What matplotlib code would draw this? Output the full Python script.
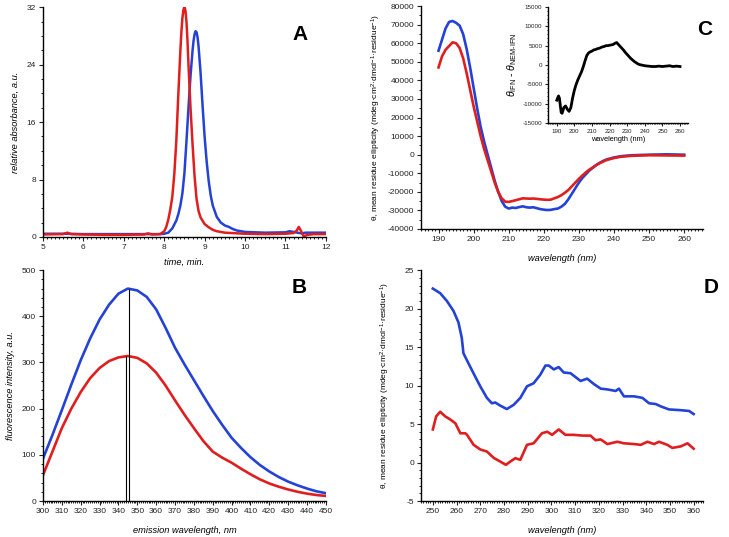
import matplotlib
matplotlib.use("Agg")
import matplotlib.pyplot as plt
from matplotlib.ticker import MultipleLocator

plt.rcParams['font.family'] = ['Liberation Sans', 'DejaVu Sans']
plt.rcParams['mathtext.fontset'] = 'custom'
plt.rcParams['mathtext.rm'] = 'Liberation Sans'
plt.rcParams['mathtext.it'] = 'Liberation Sans:italic'
plt.rcParams['mathtext.bf'] = 'Liberation Sans:bold'
plt.rcParams['axes.unicode_minus'] = False

BLUE = '#2442d6'
RED = '#e01e1e'

# ---------------- Panel A data (SEC chromatogram) ----------------
a_time_blue = [5.0, 5.5, 6.0, 6.5, 7.0, 7.5, 7.9, 8.0, 8.1, 8.2, 8.3, 8.35, 8.4, 8.45, 8.5, 8.55,
               8.6, 8.65, 8.7, 8.725, 8.75, 8.775, 8.8, 8.825, 8.85, 8.9, 8.95, 9.0, 9.05, 9.1, 9.15,
               9.2, 9.3, 9.4, 9.5, 9.6, 9.7, 9.8, 10.0, 10.5, 11.0, 11.1, 11.2, 11.3, 11.4, 11.5, 12.0]
a_abs_blue = [0.45, 0.45, 0.4, 0.4, 0.4, 0.4, 0.4, 0.45, 0.6, 1.2, 2.3, 3.2, 4.4, 6.1, 8.9, 13.3,
              18.0, 22.4, 25.9, 27.3, 28.2, 28.65, 28.5, 27.8, 26.5, 22.8, 18.2, 13.9, 10.5, 7.8, 5.8,
              4.4, 2.8, 2.0, 1.6, 1.4, 1.1, 0.9, 0.7, 0.6, 0.65, 0.8, 0.7, 0.6, 0.5, 0.6, 0.6]
a_time_red = [5.0, 5.5, 5.6, 5.7, 6.0, 6.5, 7.0, 7.5, 7.6, 7.7, 7.9, 8.0, 8.05, 8.1, 8.15, 8.2,
              8.25, 8.3, 8.35, 8.4, 8.425, 8.45, 8.475, 8.5, 8.525, 8.55, 8.575, 8.6, 8.65, 8.7,
              8.75, 8.8, 8.85, 8.9, 9.0, 9.1, 9.2, 9.3, 9.5, 10.0, 10.5, 11.0, 11.2, 11.28, 11.33,
              11.38, 11.45, 11.55, 11.7, 12.0]
a_abs_red = [0.35, 0.4, 0.6, 0.4, 0.35, 0.3, 0.3, 0.35, 0.5, 0.35, 0.4, 0.8, 1.4, 2.4, 3.8, 5.6,
             8.8, 13.5, 20.0, 26.0, 28.6, 30.5, 31.6, 32.1, 31.5, 30.0, 27.4, 24.0, 18.0, 13.0,
             8.5, 5.3, 3.6, 2.7, 1.8, 1.35, 1.0, 0.8, 0.6, 0.45, 0.4, 0.45, 0.55, 0.9, 1.4,
             0.9, 0.1, 0.3, 0.4, 0.4]

# ---------------- Panel B data (fluorescence) ----------------
b_wl = [300, 305, 310, 315, 320, 325, 330, 335, 340, 345, 350, 355, 360, 365, 370, 375,
        380, 385, 390, 395, 400, 405, 410, 415, 420, 425, 430, 435, 440, 445, 450]
b_blue = [92, 143, 197, 252, 305, 352, 393, 425, 449, 460, 456, 442, 415, 375, 332, 296,
          262, 228, 195, 165, 137, 115, 95, 78, 64, 52, 42, 34, 27, 21, 17]
b_red = [56, 107, 158, 200, 236, 266, 288, 303, 311, 314, 310, 298, 278, 250, 218, 187,
         158, 130, 107, 94, 83, 70, 58, 47, 38, 31, 25, 20, 16, 13, 11]
b_max_red = [344.0, 314]
b_max_blue = [345.6, 460]

# ---------------- Panel C data (far-UV CD) ----------------
c_wl = [190, 191, 192, 193, 194, 195, 196, 197, 198, 199, 200, 201, 202, 203, 204, 205,
        206, 207, 208, 209, 210, 211, 212, 213, 214, 215, 216, 217, 218, 219, 220, 221,
        222, 223, 224, 225, 226, 227, 228, 229, 230, 231, 232, 233, 234, 235, 236, 237,
        238, 240, 242, 245, 250, 255, 260]
c_blue = [56, 62, 68, 71.5, 72, 71, 69.5, 65, 57, 47, 36, 25, 15, 7, 0, -7,
          -14, -20, -25, -28, -29, -28.5, -28.7, -28.2, -27.8, -28.3, -28.5, -28.3, -28.8, -29.3, -29.6, -29.8,
          -29.7, -29.3, -29, -28, -26.5, -24, -21, -18, -15, -12.5, -10.5, -8.5, -7, -5.5, -4.3, -3.3,
          -2.5, -1.5, -0.8, -0.3, 0, 0.2, 0]
c_red = [47, 53, 56.5, 58.5, 60.5, 60, 57.5, 52, 44, 35, 26, 18, 10, 3, -3, -9,
         -15, -20, -23.5, -25.3, -25.4, -25, -24.5, -24, -23.5, -23.6, -23.7, -23.6, -23.8, -24, -24.2, -24.3,
         -24.2, -23.5, -22.8, -21.8, -20.5, -19, -17, -15, -13, -11.2, -9.5, -8, -6.8, -5.5, -4.5, -3.6,
         -2.8, -1.8, -1.1, -0.6, -0.3, -0.4, -0.5]

# inset: difference spectrum
i_wl = [190, 190.5, 191, 191.5, 192, 192.5, 193, 193.5, 194, 195, 196, 197, 198, 199, 200, 201,
        202, 203, 204, 205, 206, 207, 208, 209, 210, 211, 212, 213, 214, 215, 216, 217, 218, 219,
        220, 221, 222, 223, 224, 225, 226, 227, 228, 229, 230, 231, 232, 233, 234, 235, 236, 237,
        238, 240, 242, 244, 246, 248, 250, 252, 254, 256, 258, 260]
i_diff = [-9.1, -8.5, -8.0, -8.6, -10.5, -12.3, -12.5, -11.8, -11.0, -10.6, -11.5, -12.0, -11.0, -8.5, -6.5, -5.0,
          -3.8, -2.8, -1.8, -0.5, 1.0, 2.4, 3.1, 3.4, 3.6, 3.9, 4.0, 4.2, 4.3, 4.5, 4.7, 4.8, 5.0, 5.0,
          5.1, 5.2, 5.3, 5.6, 5.8, 5.3, 4.8, 4.3, 3.8, 3.2, 2.7, 2.2, 1.7, 1.3, 0.9, 0.6, 0.3, 0.1,
          0.0, -0.2, -0.3, -0.4, -0.4, -0.3, -0.4, -0.3, -0.2, -0.4, -0.3, -0.4]

# ---------------- Panel D data (near-UV CD) ----------------
d_wl_blue = [250, 253.1, 255.9, 258.7, 260.8, 262.2, 262.9, 265, 267.8, 270, 272.8, 274.9, 276.3,
             278.4, 281.2, 284.1, 286.9, 289.7, 292.5, 295.3, 297.5, 298.9, 301, 303.1, 305.2,
             308.1, 312.3, 315.1, 317.9, 320.8, 323.6, 327.1, 328.5, 330.6, 334.9, 338.4, 341.2,
             344, 346.1, 349.6, 354.6, 358.1, 360]
d_blue = [22.6, 22.0, 21.0, 19.7, 18.2, 16.2, 14.2, 12.9, 11.2, 9.9, 8.4, 7.7, 7.8,
          7.4, 6.95, 7.5, 8.4, 9.9, 10.3, 11.4, 12.6, 12.6, 12.1, 12.4, 11.7,
          11.6, 10.6, 10.9, 10.2, 9.6, 9.5, 9.3, 9.6, 8.6, 8.6, 8.4, 7.7,
          7.6, 7.3, 6.9, 6.8, 6.7, 6.3]
d_wl_red = [250, 251.4, 253.1, 255.2, 257.3, 259.5, 261.6, 263.7, 264.4, 267.2, 270, 272.8,
            275.7, 278.4, 280.8, 282.7, 284.8, 286.9, 289.7, 292.5, 296, 298.2, 300.3, 303.1,
            305.9, 309.4, 313, 316.5, 318.6, 320.8, 323.6, 327.8, 330.6, 334.9, 337.7, 340.5,
            343.3, 345.4, 348.9, 351, 354.6, 357.4, 360]
d_red = [4.3, 6.0, 6.6, 6.0, 5.6, 5.1, 3.8, 3.8, 3.6, 2.3, 1.7, 1.43,
         0.6, 0.13, -0.3, 0.13, 0.57, 0.35, 2.3, 2.5, 3.8, 4.0, 3.6, 4.3,
         3.6, 3.6, 3.5, 3.5, 2.9, 3.0, 2.4, 2.7, 2.5, 2.4, 2.3, 2.7,
         2.4, 2.7, 2.3, 1.9, 2.1, 2.5, 1.8]

TICK_FS = 6.0
LAB_FS = 6.7
LW = 1.9


def style(ax, xmaj, xmin, ymaj, ymin, fs=TICK_FS):
    for s in ('top', 'right'):
        ax.spines[s].set_visible(False)
    for s in ('left', 'bottom'):
        ax.spines[s].set_linewidth(1.0)
    ax.xaxis.set_major_locator(MultipleLocator(xmaj))
    ax.xaxis.set_minor_locator(MultipleLocator(xmin))
    ax.yaxis.set_major_locator(MultipleLocator(ymaj))
    ax.yaxis.set_minor_locator(MultipleLocator(ymin))
    ax.tick_params(which='major', direction='out', length=3, width=0.8, labelsize=fs,
                   colors='#222222', pad=2)
    ax.tick_params(which='minor', direction='out', length=1.6, width=0.6)


fig = plt.figure(figsize=(7.29, 5.37), dpi=100)

# ---- A ----
axA = fig.add_axes([0.059, 0.5587, 0.388, 0.428])
axA.plot(a_time_blue, a_abs_blue, color=BLUE, lw=1.8)
axA.plot(a_time_red, a_abs_red, color=RED, lw=1.8)
axA.set_xlim(5, 12)
axA.set_ylim(0, 32)
style(axA, 1, 0.1, 8, 2)
axA.set_xlabel('time, min.', style='italic', fontsize=LAB_FS, labelpad=5)
axA.set_ylabel('relative absorbance, a.u.', style='italic', fontsize=LAB_FS, labelpad=5)
fig.text(0.411, 0.935, 'A', fontsize=15, fontweight='bold', ha='center', va='center')

# ---- B ----
axB = fig.add_axes([0.059, 0.067, 0.388, 0.430])
axB.plot(b_wl, b_blue, color=BLUE, lw=LW)
axB.plot(b_wl, b_red, color=RED, lw=LW)
axB.vlines([b_max_red[0]], 0, b_max_red[1], color='black', lw=0.8)
axB.vlines([b_max_blue[0]], 0, b_max_blue[1], color='black', lw=0.8)
axB.set_xlim(300, 450)
axB.set_ylim(0, 500)
style(axB, 10, 1, 100, 20)
axB.set_xlabel('emission wavelength, nm', style='italic', fontsize=LAB_FS, labelpad=8)
axB.set_ylabel('fluorescence intensity, a.u.', style='italic', fontsize=LAB_FS, labelpad=5)
fig.text(0.411, 0.465, 'B', fontsize=15, fontweight='bold', ha='center', va='center')

# ---- C ----
axC = fig.add_axes([0.5775, 0.5736, 0.387, 0.415])
axC.plot(c_wl, [v * 1000 for v in c_blue], color=BLUE, lw=LW)
axC.plot(c_wl, [v * 1000 for v in c_red], color=RED, lw=LW)
axC.set_xlim(185, 265.4)
axC.set_ylim(-40000, 80000)
style(axC, 10, 1, 10000, 5000)
axC.set_xlabel('wavelength (nm)', style='italic', fontsize=LAB_FS, labelpad=8)
axC.set_ylabel('θ, mean residue ellipticity (mdeg·cm$^{2}$·dmol$^{-1}$·residue$^{-1}$)',
               fontsize=6.0, labelpad=3)
fig.text(0.966, 0.945, 'C', fontsize=15, fontweight='bold', ha='center', va='center')

# inset
axI = fig.add_axes([0.7517, 0.771, 0.192, 0.216])
axI.plot(i_wl, [v * 1000 for v in i_diff], color='black', lw=2.0)
axI.set_xlim(185, 264.5)
axI.set_ylim(-15000, 15000)
style(axI, 10, 1, 5000, 1000, fs=4.5)
axI.tick_params(which='major', length=2)
axI.tick_params(which='minor', length=1)
axI.set_xlabel('wavelength (nm)', fontsize=5.3, labelpad=1.5)
axI.set_ylabel(r'$\theta_{\mathrm{IFN}}$ - $\theta_{\mathrm{NEM\text{-}IFN}}$', fontsize=7.5, labelpad=3)

# ---- D ----
axD = fig.add_axes([0.5775, 0.067, 0.387, 0.430])
axD.plot(d_wl_blue, d_blue, color=BLUE, lw=LW)
axD.plot(d_wl_red, d_red, color=RED, lw=LW)
axD.set_xlim(245, 364)
axD.set_ylim(-5, 25)
style(axD, 10, 1, 5, 1)
axD.set_xlabel('wavelength (nm)', style='italic', fontsize=LAB_FS, labelpad=8)
axD.set_ylabel('θ, mean residue ellipticity (mdeg·cm$^{2}$·dmol$^{-1}$·residue$^{-1}$)',
               fontsize=6.0, labelpad=9)
fig.text(0.976, 0.465, 'D', fontsize=15, fontweight='bold', ha='center', va='center')

fig.savefig('out.png', dpi=100)
